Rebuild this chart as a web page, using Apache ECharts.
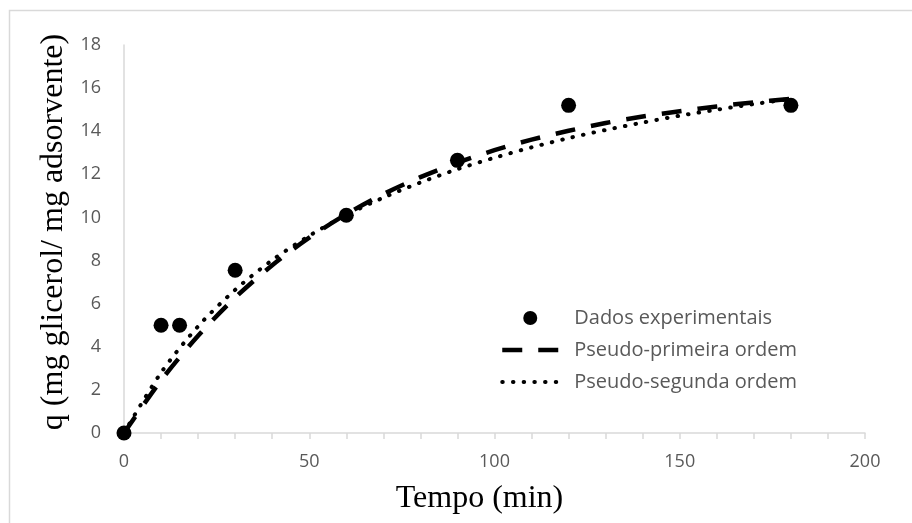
<!DOCTYPE html>
<html>
<head>
<meta charset="utf-8">
<script src="https://cdn.jsdelivr.net/npm/echarts@6/dist/echarts.min.js"></script>
<style>
  html, body { margin: 0; padding: 0; background: #fff; }
  #chart { width: 912px; height: 523px; }
</style>
</head>
<body>
<div id="chart"></div>
<script>
// experimental points (min, mg/mg)
const expTime = [0, 10, 15, 30, 60, 90, 120, 180]
const expQ = [0, 5.0, 5.0, 7.55, 10.1, 12.65, 15.2, 15.2]

// model curves
const modelTime = [0, 10, 20, 30, 40, 50, 60, 70, 80, 90, 100, 110, 120, 130, 140, 150, 160, 170, 180]
const firstOrderQ = [0, 2.44, 4.51, 6.28, 7.78, 9.06, 10.15, 11.08, 11.87, 12.54, 13.12, 13.61, 14.02, 14.38, 14.68, 14.93, 15.15, 15.34, 15.5]
const secondOrderQ = [0, 2.8, 4.95, 6.64, 8.02, 9.15, 10.11, 10.92, 11.62, 12.24, 12.77, 13.25, 13.68, 14.06, 14.4, 14.72, 15.0, 15.26, 15.5]

const seriesNames = ['Dados experimentais', 'Pseudo-primeira ordem', 'Pseudo-segunda ordem']

const pairs = (xs, ys) => xs.map((x, i) => [x, ys[i]])

const myChart = echarts.init(document.getElementById('chart'))

const axisGray = '#d9d9d9'
const labelGray = '#595959'

const dashStyle = { color: '#000', width: 4.5, type: [20, 16], cap: 'butt' }
const dotStyle = { color: '#000', width: 4, type: [0.5, 10.2], cap: 'round' }

const option = {
	backgroundColor: '#fff',
	animation: false,
	graphic: [
		{
			type: 'rect',
			shape: { x: 9.5, y: 10.5, width: 1000, height: 1000 },
			style: { fill: 'none', stroke: axisGray, lineWidth: 1.5 },
			silent: true,
		},
	],
	grid: {
		left: 124,
		right: 47,
		top: 45,
		bottom: 90,
	},
	legend: {
		orient: 'vertical',
		left: 495,
		top: 302,
		itemWidth: 56,
		itemHeight: 14,
		itemGap: 10,
		data: [
			{ name: seriesNames[0] },
			// hide the circle ECharts puts on line icons
			{ name: seriesNames[1], itemStyle: { opacity: 0 }, lineStyle: dashStyle },
			{ name: seriesNames[2], itemStyle: { opacity: 0 }, lineStyle: dotStyle },
		],
		textStyle: {
			fontFamily: 'Open Sans',
			fontSize: 20,
			lineHeight: 22,
			color: labelGray,
			padding: [0, 0, 0, 11],
		},
	},
	xAxis: {
		type: 'value',
		min: 0,
		max: 200,
		interval: 50,
		name: 'Tempo (min)',
		nameLocation: 'middle',
		nameGap: 50,
		nameTextStyle: {
			fontFamily: 'Liberation Serif',
			fontSize: 32,
			color: '#000',
			padding: [0, 30, 0, 0],
		},
		axisLine: { lineStyle: { color: axisGray, width: 1.5 } },
		axisTick: { show: true, length: 6, lineStyle: { color: axisGray, width: 1.5 } },
		minorTick: { show: true, splitNumber: 5, length: 6, lineStyle: { color: axisGray, width: 1.5 } },
		axisLabel: { fontFamily: 'Open Sans', fontSize: 18, color: labelGray, margin: 20 },
		splitLine: { show: false },
	},
	yAxis: {
		type: 'value',
		min: 0,
		max: 18,
		interval: 2,
		name: 'q (mg glicerol/ mg adsorvente)',
		nameLocation: 'middle',
		nameGap: 46,
		nameTextStyle: {
			fontFamily: 'Liberation Serif',
			fontSize: 32,
			color: '#000',
			padding: [0, 0, 0, 14],
		},
		axisLine: { show: true, lineStyle: { color: axisGray, width: 1.5 } },
		axisTick: { show: false },
		axisLabel: { fontFamily: 'Open Sans', fontSize: 18, color: labelGray, margin: 23 },
		splitLine: { show: false },
	},
	series: [
		{
			name: seriesNames[0],
			type: 'scatter',
			symbol: 'circle',
			symbolSize: 15,
			z: 5,
			itemStyle: { color: '#000', opacity: 1 },
			data: pairs(expTime, expQ),
		},
		{
			name: seriesNames[1],
			type: 'line',
			symbol: 'none',
			smooth: 0.3,
			itemStyle: { color: '#000' },
			lineStyle: dashStyle,
			data: pairs(modelTime, firstOrderQ),
		},
		{
			name: seriesNames[2],
			type: 'line',
			symbol: 'none',
			smooth: 0.3,
			itemStyle: { color: '#000' },
			lineStyle: dotStyle,
			data: pairs(modelTime, secondOrderQ),
		},
	],
}

myChart.setOption(option)
</script>
</body>
</html>
